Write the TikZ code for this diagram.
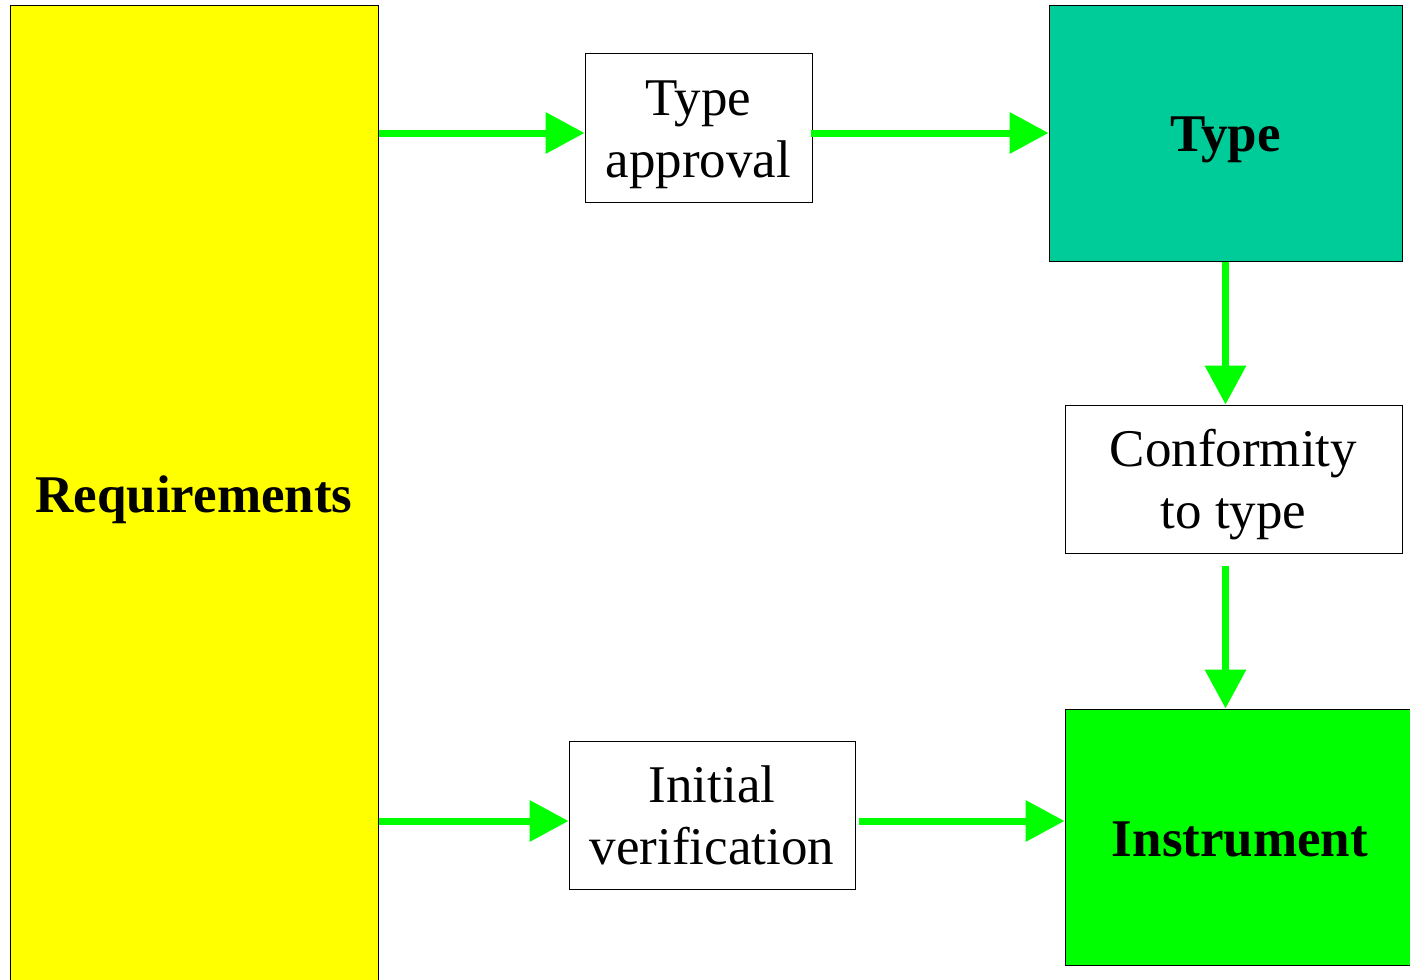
\documentclass[tikz,border=0pt]{standalone}
\usepackage{fontspec}
\setmainfont{Liberation Serif}
\usepackage{xcolor}
\definecolor{myyellow}{RGB}{255,255,0}
\definecolor{myteal}{RGB}{0,204,153}
\definecolor{mygreen}{RGB}{0,255,0}
\usepackage{tikz}
\usetikzlibrary{arrows.meta}
\newcommand{\padtop}[1]{\rule{0pt}{#1}}
\tikzset{main box/.style={rectangle,draw=black,line width=0.5pt,inner sep=0pt,align=center,
    font=\fontsize{26.5}{31}\selectfont},
  flow/.style={-{Triangle[length=19.5pt,width=20pt]},draw=mygreen,fill=mygreen,line width=3.5pt},}

\begin{document}
\begin{tikzpicture}[x=0.5pt, y=-0.5pt]
	\clip (0,0) rectangle (1410,980);
	\node[main box, fill=myyellow, minimum width=184pt, minimum height=490pt, font=\fontsize{26.5}{31}\selectfont\bfseries] (req) at (194,495) {\padtop{23pt}Requirements};
	\node[main box, minimum width=113.5pt, minimum height=74.5pt] (tapp) at (698.5,127.5) {\padtop{24.5pt}Type\\approval};
	\node[main box, fill=myteal, minimum width=176.5pt, minimum height=128pt, font=\fontsize{26.5}{31}\selectfont\bfseries] (type) at (1225.5,133) {\padtop{24.5pt}Type};
	\node[main box, minimum width=168.5pt, minimum height=74pt] (conf) at (1233.5,479) {\padtop{24.5pt}Conformity\\to type};
	\node[main box, minimum width=143pt, minimum height=74pt] (init) at (712,815) {Initial\\verification};
	\node[main box, fill=mygreen, minimum width=175pt, minimum height=128pt, font=\fontsize{26.5}{31}\selectfont\bfseries] (inst) at (1240,837) {\padtop{19.5pt}Instrument};

	% arrows
	\path
	(req.east |- type.west) edge[flow] (tapp.west |- type.west)
	([xshift=-1pt]tapp.east |- type.west) edge[flow] (type.west)
	(type.south) edge[flow] (type.south |- conf.north)
	([yshift=-6pt]type.south |- conf.south) edge[flow] (type.south |- inst.north)
	([yshift=-3pt]req.east |- init.west) edge[flow] ([yshift=-3pt]init.west)
	([xshift=1.5pt,yshift=-3pt]init.east) edge[flow] ([yshift=-3pt]inst.west |- init.west);
\end{tikzpicture}
\end{document}
